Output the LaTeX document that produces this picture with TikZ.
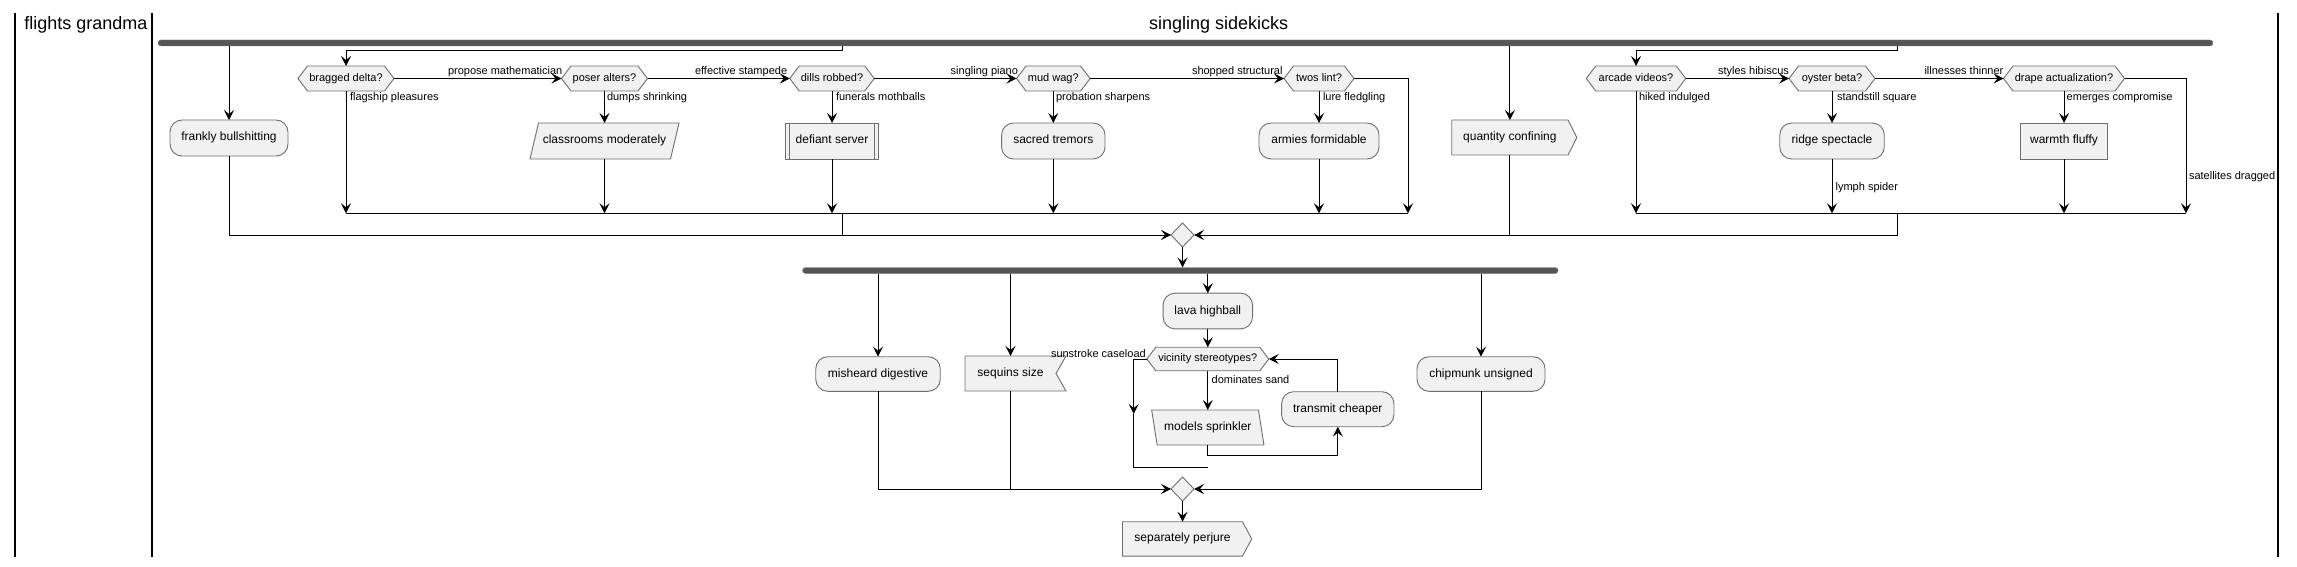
\documentclass[tikz,border=0pt]{standalone}
\usepackage{fontspec}
\setmainfont{Liberation Sans}
\usetikzlibrary{arrows.meta,backgrounds,shapes.geometric}
\definecolor{boxfill}{RGB}{241,241,241}
\definecolor{boxline}{RGB}{110,110,110}
\definecolor{barfill}{RGB}{85,85,85}
\newcommand\hexdraw[2]{\begin{scope}[on background layer]\draw[shp] (#1.west) -- ([xshift=#2]#1.north west) -- ([xshift=-#2]#1.north east) -- (#1.east) -- ([xshift=-#2]#1.south east) -- ([xshift=#2]#1.south west) -- cycle;\end{scope}}
\newcommand\pardrawA[2]{\begin{scope}[on background layer]\draw[shp] (#1.south west) -- ([xshift=#2]#1.north west) -- (#1.north east) -- ([xshift=-#2]#1.south east) -- cycle;\end{scope}}
\newcommand\pardrawB[2]{\begin{scope}[on background layer]\draw[shp] (#1.north west) -- ([xshift=-#2]#1.north east) -- (#1.south east) -- ([xshift=#2]#1.south west) -- cycle;\end{scope}}
\newcommand\senddraw[2]{\begin{scope}[on background layer]\draw[shp] (#1.north west) -- (#1.north east) -- ([xshift=#2]#1.east) -- (#1.south east) -- (#1.south west) -- cycle;\end{scope}}
\newcommand\recvdraw[2]{\begin{scope}[on background layer]\draw[shp] (#1.north west) -- ([xshift=#2]#1.north east) -- (#1.east) -- ([xshift=#2]#1.south east) -- (#1.south west) -- cycle;\end{scope}}
\begin{document}
\begin{tikzpicture}[x=1pt,y=-1pt,
  every node/.style={inner sep=0pt, outer sep=0pt},
  act/.style={draw=boxline, fill=boxfill, line width=0.9pt, rounded corners=12pt, minimum height=36pt, font=\fontsize{12}{14}\selectfont, text height=8.5pt, text depth=2.5pt},
  plainbox/.style={draw=boxline, fill=boxfill, line width=0.9pt, minimum height=36pt, font=\fontsize{12}{14}\selectfont, text height=8.5pt, text depth=2.5pt},
  ghost/.style={minimum height=36pt, font=\fontsize{12}{14}\selectfont, text height=8.5pt, text depth=2.5pt},
  dec/.style={minimum height=25pt, font=\fontsize{11}{13}\selectfont, text height=8pt, text depth=2.3pt},
  lbl/.style={anchor=west, font=\fontsize{11}{13}\selectfont, text height=8pt, text depth=2.3pt},
  shp/.style={draw=boxline, fill=boxfill, line width=0.9pt},
  bar/.style={fill=barfill, draw=barfill!80, rounded corners=3pt, minimum height=6pt},
  merge/.style={diamond, draw=boxline, fill=boxfill, line width=0.9pt, minimum width=23pt, minimum height=24pt},
  conn/.style={line width=1pt, black},
  arr/.style={conn, -{Stealth[length=10pt,width=10pt,inset=4pt]}},
  lane/.style={line width=1.8pt, black},
  lanetitle/.style={font=\fontsize{18}{21}\selectfont}
]
\useasboundingbox (0,0) rectangle (2297,567);
% lanes
\draw[lane] (15,12.7) -- (15,556.7);
\draw[lane] (152.3,12.7) -- (152.3,556.7);
\draw[lane] (2278,12.7) -- (2278,556.7);
\node[lanetitle] (t1) at (86,25) {flights grandma};
\node[lanetitle] (t2) at (1218.7,25) {singling sidekicks};
% bars and merges
\node[bar, minimum width=2055pt] (bar1) at (1185.5,43) {};
\node[bar, minimum width=755.5pt] (bar2) at (1180.3,270.5) {};
\node[merge] (m1) at (1182.5,235) {};
\node[merge] (m2) at (1182.5,489) {};
% top row
\node[act, minimum width=118pt] (fb) at (229,138) {frankly bullshitting};
\node[dec, minimum width=96pt] (bd) at (346,78.5) {bragged delta?};
\node[dec, minimum width=86pt] (pa) at (604.5,78.5) {poser alters?};
\node[ghost, minimum width=149pt] (cm) at (604.5,141) {classrooms moderately};
\node[dec, minimum width=84.5pt] (dr) at (832,78.5) {dills robbed?};
\node[plainbox, minimum width=93.4pt] (ds) at (832,141) {defiant server};
\node[dec, minimum width=73.6pt] (mw) at (1053.3,78.5) {mud wag?};
\node[act, minimum width=103.4pt] (st) at (1053.3,141) {sacred tremors};
\node[dec, minimum width=70pt] (tl) at (1319,78.5) {twos lint?};
\node[act, minimum width=120pt] (af) at (1319,141) {armies formidable};
\node[ghost, minimum width=116.3pt, minimum height=35pt] (qc) at (1509.9,137.5) {quantity confining};
\node[dec, minimum width=99.5pt] (av) at (1636,78.5) {arcade videos?};
\node[dec, minimum width=86pt] (ob) at (1832,78.5) {oyster beta?};
\node[act, minimum width=104.5pt] (rs) at (1832,141) {ridge spectacle};
\node[dec, minimum width=121pt] (da) at (2064,78.5) {drape actualization?};
\node[plainbox, minimum width=87.6pt] (wf) at (2064,141) {warmth fluffy};
\hexdraw{bd}{9.5pt}\hexdraw{pa}{9.5pt}\hexdraw{dr}{9.5pt}\hexdraw{mw}{9.5pt}\hexdraw{tl}{9.5pt}
\hexdraw{av}{9.5pt}\hexdraw{ob}{9.5pt}\hexdraw{da}{9.5pt}
\pardrawA{cm}{8.5pt}
\senddraw{qc}{8.7pt}
\draw[boxline, line width=0.9pt] ([xshift=4.4pt]ds.north west) -- ([xshift=4.4pt]ds.south west);
\draw[boxline, line width=0.9pt] ([xshift=-4.4pt]ds.north east) -- ([xshift=-4.4pt]ds.south east);
% labels top
\node[lbl] (l1) at (448,72) {propose mathematician};
\node[lbl] (l2) at (350,98) {flagship pleasures};
\node[lbl] (l3) at (607,98) {dumps shrinking};
\node[lbl] (l4) at (695,72) {effective stampede};
\node[lbl] (l5) at (836,98) {funerals mothballs};
\node[lbl] (l6) at (950.7,72) {singling piano};
\node[lbl] (l7) at (1056,98) {probation sharpens};
\node[lbl] (l8) at (1192,72) {shopped structural};
\node[lbl] (l9) at (1323,98) {lure fledgling};
\node[lbl] (l10) at (1639,98) {hiked indulged};
\node[lbl] (l11) at (1718,72) {styles hibiscus};
\node[lbl] (l12) at (1837,98) {standstill square};
\node[lbl] (l13) at (1924.5,72) {illnesses thinner};
\node[lbl] (l14) at (2066.7,98) {emerges compromise};
\node[lbl] (l15) at (1835.6,188) {lymph spider};
\node[lbl] (l16) at (2189,177) {satellites dragged};
% coordinates
\coordinate (j1) at (842,51);
\coordinate (j2) at (1897,51);
\coordinate (c1r) at (1408,213.3);
\coordinate (c2r) at (2186,213.3);
% top connectors
\draw[arr] (bar1.south -| fb.north) -- (fb.north);
\draw[arr] (bar1.south -| j1) -- (j1) -| (bd.north);
\draw[arr] (bd.east) -- (pa.west);
\draw[arr] (pa.east) -- (dr.west);
\draw[arr] (dr.east) -- (mw.west);
\draw[arr] (mw.east) -- (tl.west);
\draw[arr] (tl.east) -| (c1r);
\draw[arr] (bd.south) -- (bd.south |- c1r);
\draw[arr] (pa.south) -- (pa.south |- cm.north);
\draw[arr] (cm.south) -- (cm.south |- c1r);
\draw[arr] (dr.south) -- (dr.south |- ds.north);
\draw[arr] (ds.south) -- (ds.south |- c1r);
\draw[arr] (mw.south) -- (mw.south |- st.north);
\draw[arr] (st.south) -- (st.south |- c1r);
\draw[arr] (tl.south) -- (tl.south |- af.north);
\draw[arr] (af.south) -- (af.south |- c1r);
\draw[conn] (bd.south |- c1r) -- (c1r);
\draw[conn] (j1 |- c1r) -- (j1 |- m1);
\draw[arr] (fb.south) |- (m1.west);
\draw[arr] (bar1.south -| qc.north) -- (qc.north);
\draw[conn] (qc.south) -- (qc.south |- m1);
\draw[arr] (bar1.south -| j2) -- (j2) -| (av.north);
\draw[arr] (av.east) -- (ob.west);
\draw[arr] (ob.east) -- (da.west);
\draw[arr] (da.east) -| (c2r);
\draw[arr] (av.south) -- (av.south |- c2r);
\draw[arr] (ob.south) -- (ob.south |- rs.north);
\draw[arr] (rs.south) -- (rs.south |- c2r);
\draw[arr] (da.south) -- (da.south |- wf.north);
\draw[arr] (wf.south) -- (wf.south |- c2r);
\draw[conn] (av.south |- c2r) -- (c2r);
\draw[arr] (j2 |- c2r) |- (m1.east);
\draw[arr] (m1.south) -- (m1.south |- bar2.north);
% lower row
\node[act, minimum width=124.5pt, minimum height=34.6pt] (md) at (878,374) {misheard digestive};
\node[ghost, minimum width=91pt, minimum height=35pt] (ss) at (1010.5,373.5) {sequins size};
\node[act, minimum width=89.5pt, minimum height=35.7pt] (lh) at (1207.8,311) {lava highball};
\node[dec, minimum width=122pt, minimum height=23.5pt] (vs) at (1207.8,359) {vicinity stereotypes?};
\node[ghost, minimum width=112.3pt, minimum height=35pt] (ms) at (1207.8,427.5) {models sprinkler};
\node[act, minimum width=112.3pt, minimum height=35pt] (tc) at (1337.8,409.2) {transmit cheaper};
\node[act, minimum width=128pt, minimum height=34.6pt] (cu) at (1481,374) {chipmunk unsigned};
\node[ghost, minimum width=120pt, minimum height=34.3pt] (sp) at (1182.5,538.9) {separately perjure};
\hexdraw{vs}{9pt}
\pardrawB{ms}{5.5pt}
\recvdraw{ss}{10pt}
\senddraw{sp}{9.2pt}
\node[lbl] (l17) at (1051,354.3) {sunstroke caseload};
\node[lbl] (l18) at (1211.7,380.7) {dominates sand};
\coordinate (lb) at (1207.8,455);
\coordinate (wl) at (1133.7,414);
\coordinate (we) at (1207.8,467);
\draw[arr] (bar2.south -| md.north) -- (md.north);
\draw[arr] (bar2.south -| ss.north) -- (ss.north);
\draw[arr] (bar2.south -| lh.north) -- (lh.north);
\draw[arr] (bar2.south -| cu.north) -- (cu.north);
\draw[arr] (lh.south) -- (lh.south |- vs.north);
\draw[arr] (vs.south) -- (vs.south |- ms.north);
\draw[arr] (ms.south) -- (ms.south |- lb) -| (tc.south);
\draw[arr] (tc.north) |- (vs.east);
\draw[arr] (vs.west) -| (wl);
\draw[conn] (wl) |- (we);
\draw[arr] (md.south) |- (m2.west);
\draw[conn] (ss.south) -- (ss.south |- m2);
\draw[arr] (cu.south) |- (m2.east);
\draw[arr] (m2.south) -- (m2.south |- sp.north);
\end{tikzpicture}
\end{document}
